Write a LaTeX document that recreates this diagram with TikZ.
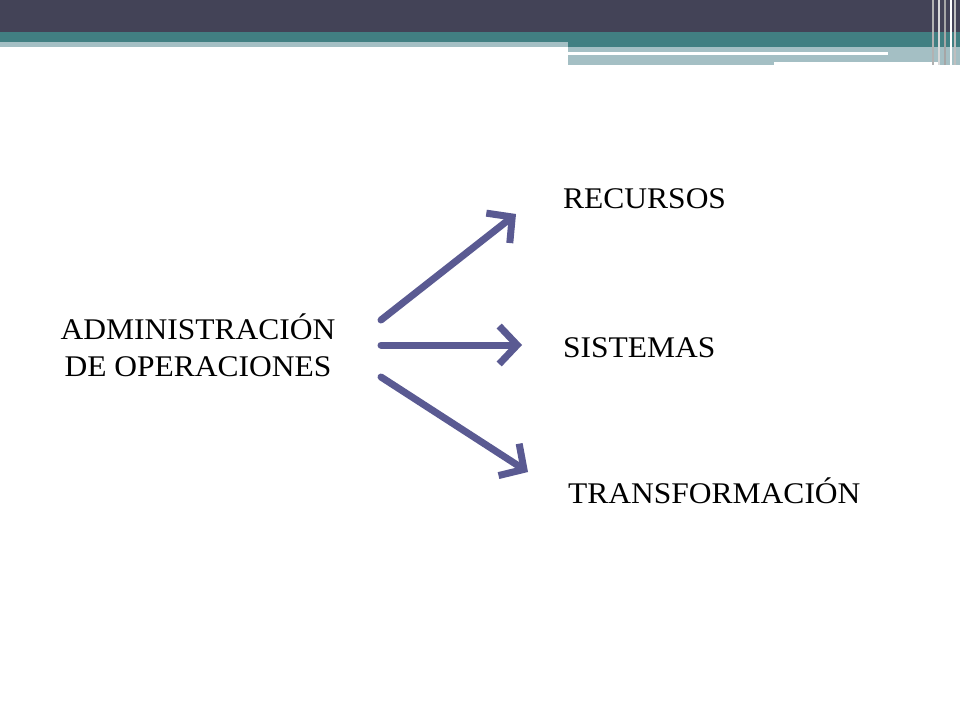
\documentclass[tikz,border=0pt]{standalone}
\usepackage{fontspec}
\setmainfont{Liberation Serif}
\usetikzlibrary{arrows.meta}
\definecolor{dark}{HTML}{434357}
\definecolor{teal}{HTML}{417F82}
\definecolor{light}{HTML}{A4BFC4}
\definecolor{arr}{HTML}{5A5A92}
\tikzset{lbl/.style={font=\fontsize{30}{37}\selectfont, inner sep=0pt, xscale=1.05},
 arw/.style={arr, line width=7pt, line cap=round, -{Straight Barb[length=18pt,width=38pt,line width=7pt]}}}
\begin{document}
\begin{tikzpicture}[x=1pt,y=-1pt]
\useasboundingbox (0,0) rectangle (960,720);
\fill[white] (0,0) rectangle (960,720);
\fill[dark] (0,0) rectangle (960,32);
\fill[teal] (0,32) rectangle (960,42);
\fill[light] (0,42) rectangle (568,47);
\fill[teal] (568,42) rectangle (960,47);
\fill[light] (568,47) rectangle (960,65);
\fill[white] (568,52) rectangle (888,55);
\fill[white] (774,62) rectangle (940,65);
\foreach \xx/\c in {932/gray!60,938/gray!30,944/gray!70,950/white,954/gray!50} \fill[\c] (\xx,0) rectangle (\xx+2,65);
\node[lbl, align=center] (a) at (198,345) {ADMINISTRACIÓN\\DE OPERACIONES};
\node[lbl, anchor=west] (r) at (563,199) {RECURSOS};
\node[lbl, anchor=west] (s) at (563,348) {SISTEMAS};
\node[lbl, anchor=west] (t) at (568,491) {TRANSFORMACIÓN};
\coordinate (a1) at (381,320); \coordinate (r1) at (516,214);
\coordinate (a2) at (381,345); \coordinate (s1) at (522,345);
\coordinate (a3) at (381,377); \coordinate (t1) at (528,472);
\draw[arw] (a1) -- (r1);
\draw[arw] (a2) -- (s1);
\draw[arw] (a3) -- (t1);
\end{tikzpicture}
\end{document}
